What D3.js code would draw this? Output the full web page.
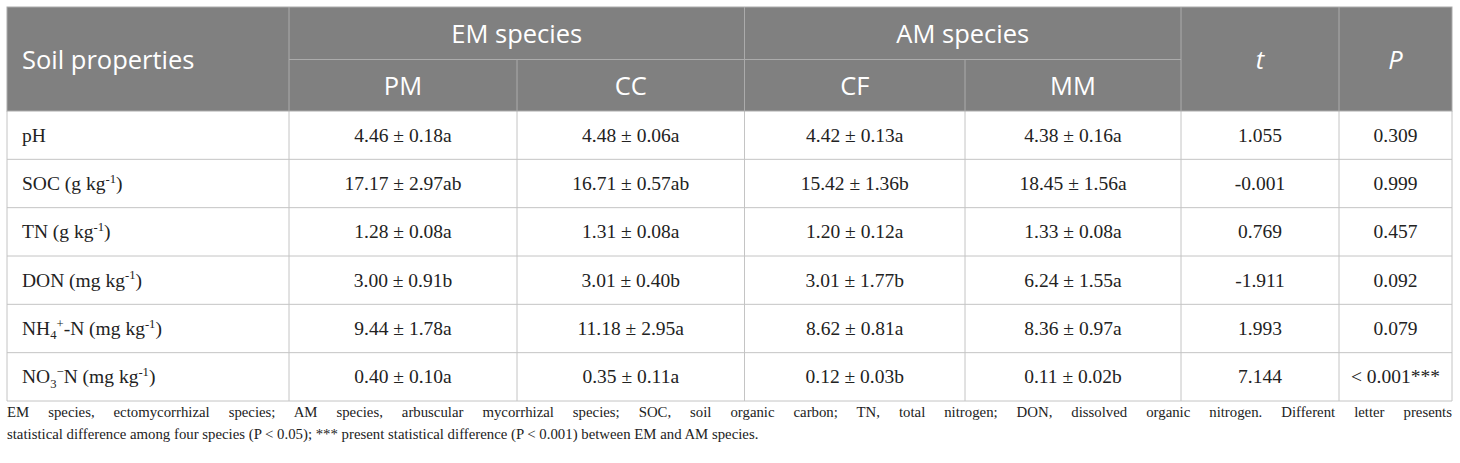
<!DOCTYPE html>
<html>
<head>
<meta charset="utf-8">
<script src="https://cdn.jsdelivr.net/npm/d3@7"></script>
<style>
  body { margin: 0; background: #fff; }
</style>
</head>
<body>
<div id="table"></div>
<script>
// table content
var properties = ["pH", "SOC (g kg^{-1})", "TN (g kg^{-1})", "DON (mg kg^{-1})",
                  "NH_{4}^{+}-N (mg kg^{-1})", "NO_{3}^{−}N (mg kg^{-1})"];
var groups = ["EM species", "AM species"];
var species = ["PM", "CC", "CF", "MM"];

var meanPM = [4.46, 17.17, 1.28, 3.00, 9.44, 0.40];
var sdPM   = [0.18, 2.97, 0.08, 0.91, 1.78, 0.10];
var letPM  = ["a", "ab", "a", "b", "a", "a"];

var meanCC = [4.48, 16.71, 1.31, 3.01, 11.18, 0.35];
var sdCC   = [0.06, 0.57, 0.08, 0.40, 2.95, 0.11];
var letCC  = ["a", "ab", "a", "b", "a", "a"];

var meanCF = [4.42, 15.42, 1.20, 3.01, 8.62, 0.12];
var sdCF   = [0.13, 1.36, 0.12, 1.77, 0.81, 0.03];
var letCF  = ["a", "b", "a", "b", "a", "b"];

var meanMM = [4.38, 18.45, 1.33, 6.24, 8.36, 0.11];
var sdMM   = [0.16, 1.56, 0.08, 1.55, 0.97, 0.02];
var letMM  = ["a", "a", "a", "a", "a", "b"];

var tValues = [1.055, -0.001, 0.769, -1.911, 1.993, 7.144];
var pValues = [0.309, 0.999, 0.457, 0.092, 0.079, 0.001];

var captionLines = [
  "EM species, ectomycorrhizal species; AM species, arbuscular mycorrhizal species; SOC, soil organic carbon; TN, total nitrogen; DON, dissolved organic nitrogen. Different letter presents",
  "statistical difference among four species (P < 0.05); *** present statistical difference (P < 0.001) between EM and AM species."
];

var width = 1460, height = 463;
var headerFill = "#808080", lineColor = "#c4c4c4", headLine = "#ababab";
var serif = "'Liberation Serif', 'Times New Roman', serif";
var sans = "'Open Sans', Lato, sans-serif";

var svg = d3.select("#table").append("svg")
    .attr("width", width)
    .attr("height", height);

svg.append("rect").attr("width", width).attr("height", height).attr("fill", "#fff");

// column edges (left side of each column + right edge of table)
var colKeys = ["prop", "PM", "CC", "CF", "MM", "t", "P", "end"];
var x = d3.scaleOrdinal()
    .domain(colKeys)
    .range([7, 289, 517, 744.5, 965, 1181, 1339, 1452]);
function colMid(k) { return (x(k) + x(colKeys[colKeys.indexOf(k) + 1])) / 2; }

var headTop = 7, headMid = 59.5, headBottom = 111;
var y = d3.scaleBand()
    .domain(properties)
    .range([headBottom, 401]);

// header background
svg.append("rect")
    .attr("x", x("prop")).attr("y", headTop)
    .attr("width", x("end") - x("prop")).attr("height", headBottom - headTop)
    .attr("fill", headerFill);

// header lines
var hl = svg.append("g").attr("stroke", headLine).attr("stroke-width", 1);
hl.append("line").attr("x1", x("PM")).attr("x2", x("t")).attr("y1", headMid).attr("y2", headMid);
["PM", "CF", "t", "P"].forEach(function(k) {
  hl.append("line").attr("x1", x(k)).attr("x2", x(k)).attr("y1", headTop).attr("y2", headBottom);
});
["CC", "MM"].forEach(function(k) {
  hl.append("line").attr("x1", x(k)).attr("x2", x(k)).attr("y1", headMid).attr("y2", headBottom);
});

// header text
var ht = svg.append("g").attr("fill", "#fff").attr("font-family", sans).attr("font-size", 25.5);
ht.append("text").attr("x", 22).attr("y", (headTop + headBottom) / 2 + 10).text("Soil properties");
ht.selectAll(".grp").data(groups).enter().append("text")
    .attr("class", "grp")
    .attr("x", function(d, i) { return i === 0 ? (x("PM") + x("CF")) / 2 : (x("CF") + x("t")) / 2; })
    .attr("y", (headTop + headMid) / 2 + 9.5)
    .attr("text-anchor", "middle")
    .text(function(d) { return d; });
ht.selectAll(".sp").data(species).enter().append("text")
    .attr("class", "sp")
    .attr("x", function(d) { return colMid(d); })
    .attr("y", (headMid + headBottom) / 2 + 9.5)
    .attr("text-anchor", "middle")
    .text(function(d) { return d; });
ht.selectAll(".stat").data(["t", "P"]).enter().append("text")
    .attr("class", "stat")
    .attr("x", function(d) { return colMid(d); })
    .attr("y", (headTop + headBottom) / 2 + 10)
    .attr("text-anchor", "middle")
    .attr("font-style", "italic")
    .text(function(d) { return d; });

// body grid
var bl = svg.append("g").attr("stroke", lineColor).attr("stroke-width", 1);
properties.forEach(function(p) {
  bl.append("line").attr("x1", x("prop")).attr("x2", x("end"))
    .attr("y1", y(p) + y.bandwidth()).attr("y2", y(p) + y.bandwidth());
});
colKeys.forEach(function(k) {
  bl.append("line").attr("x1", x(k)).attr("x2", x(k)).attr("y1", headBottom).attr("y2", y.range()[1]);
});
// outer border of header
svg.append("rect")
    .attr("x", x("prop")).attr("y", headTop)
    .attr("width", x("end") - x("prop")).attr("height", headBottom - headTop)
    .attr("fill", "none").attr("stroke", headLine);

// rich label parser: ^{..} superscript, _{..} subscript
function richText(sel, str, size) {
  var parts = str.match(/(\^\{[^}]*\}|_\{[^}]*\}|[^^_]+)/g);
  var shift = 0;
  parts.forEach(function(s) {
    var dy, txt, fs = size, target;
    if (s[0] === "^") { target = -size * 0.38; txt = s.slice(2, -1); fs = size * 0.65; }
    else if (s[0] === "_") { target = size * 0.22; txt = s.slice(2, -1); fs = size * 0.65; }
    else { target = 0; txt = s; }
    dy = target - shift;
    shift = target;
    sel.append("tspan").attr("dy", dy).attr("font-size", fs).text(txt);
  });
}

var f2 = d3.format(".2f"), f3 = d3.format(".3f");
var bodySize = 19.5;
var body = svg.append("g").attr("font-family", serif).attr("font-size", bodySize).attr("fill", "#222");
var baseOff = y.bandwidth() / 2 + 6.5;

properties.forEach(function(p, i) {
  var t = body.append("text").attr("x", 22).attr("y", y(p) + baseOff);
  richText(t, p, bodySize);
});

var cols = [
  { key: "PM", mean: meanPM, sd: sdPM, let: letPM },
  { key: "CC", mean: meanCC, sd: sdCC, let: letCC },
  { key: "CF", mean: meanCF, sd: sdCF, let: letCF },
  { key: "MM", mean: meanMM, sd: sdMM, let: letMM }
];
cols.forEach(function(c) {
  body.selectAll(".c" + c.key).data(properties).enter().append("text")
      .attr("x", colMid(c.key))
      .attr("y", function(p) { return y(p) + baseOff; })
      .attr("text-anchor", "middle")
      .text(function(p, i) { return f2(c.mean[i]) + " ± " + f2(c.sd[i]) + c.let[i]; });
});
body.selectAll(".tv").data(properties).enter().append("text")
    .attr("x", colMid("t"))
    .attr("y", function(p) { return y(p) + baseOff; })
    .attr("text-anchor", "middle")
    .text(function(p, i) { return f3(tValues[i]).replace("−", "-"); });
body.selectAll(".pv").data(properties).enter().append("text")
    .attr("x", colMid("P"))
    .attr("y", function(p) { return y(p) + baseOff; })
    .attr("text-anchor", "middle")
    .text(function(p, i) { return pValues[i] <= 0.001 ? "< " + f3(pValues[i]) + "***" : f3(pValues[i]); });

// caption, first line justified
var cap = svg.append("g").attr("font-family", serif).attr("font-size", 14.8).attr("fill", "#222");
captionLines.forEach(function(line, i) {
  var t = cap.append("text").attr("x", 7).attr("y", 417 + i * 21.5).text(line);
  if (i === 0) {
    var natural = t.node().getComputedTextLength();
    var spaces = line.split(" ").length - 1;
    t.attr("word-spacing", (x("end") - x("prop") - natural) / spaces);
  }
});
</script>
</body>
</html>
